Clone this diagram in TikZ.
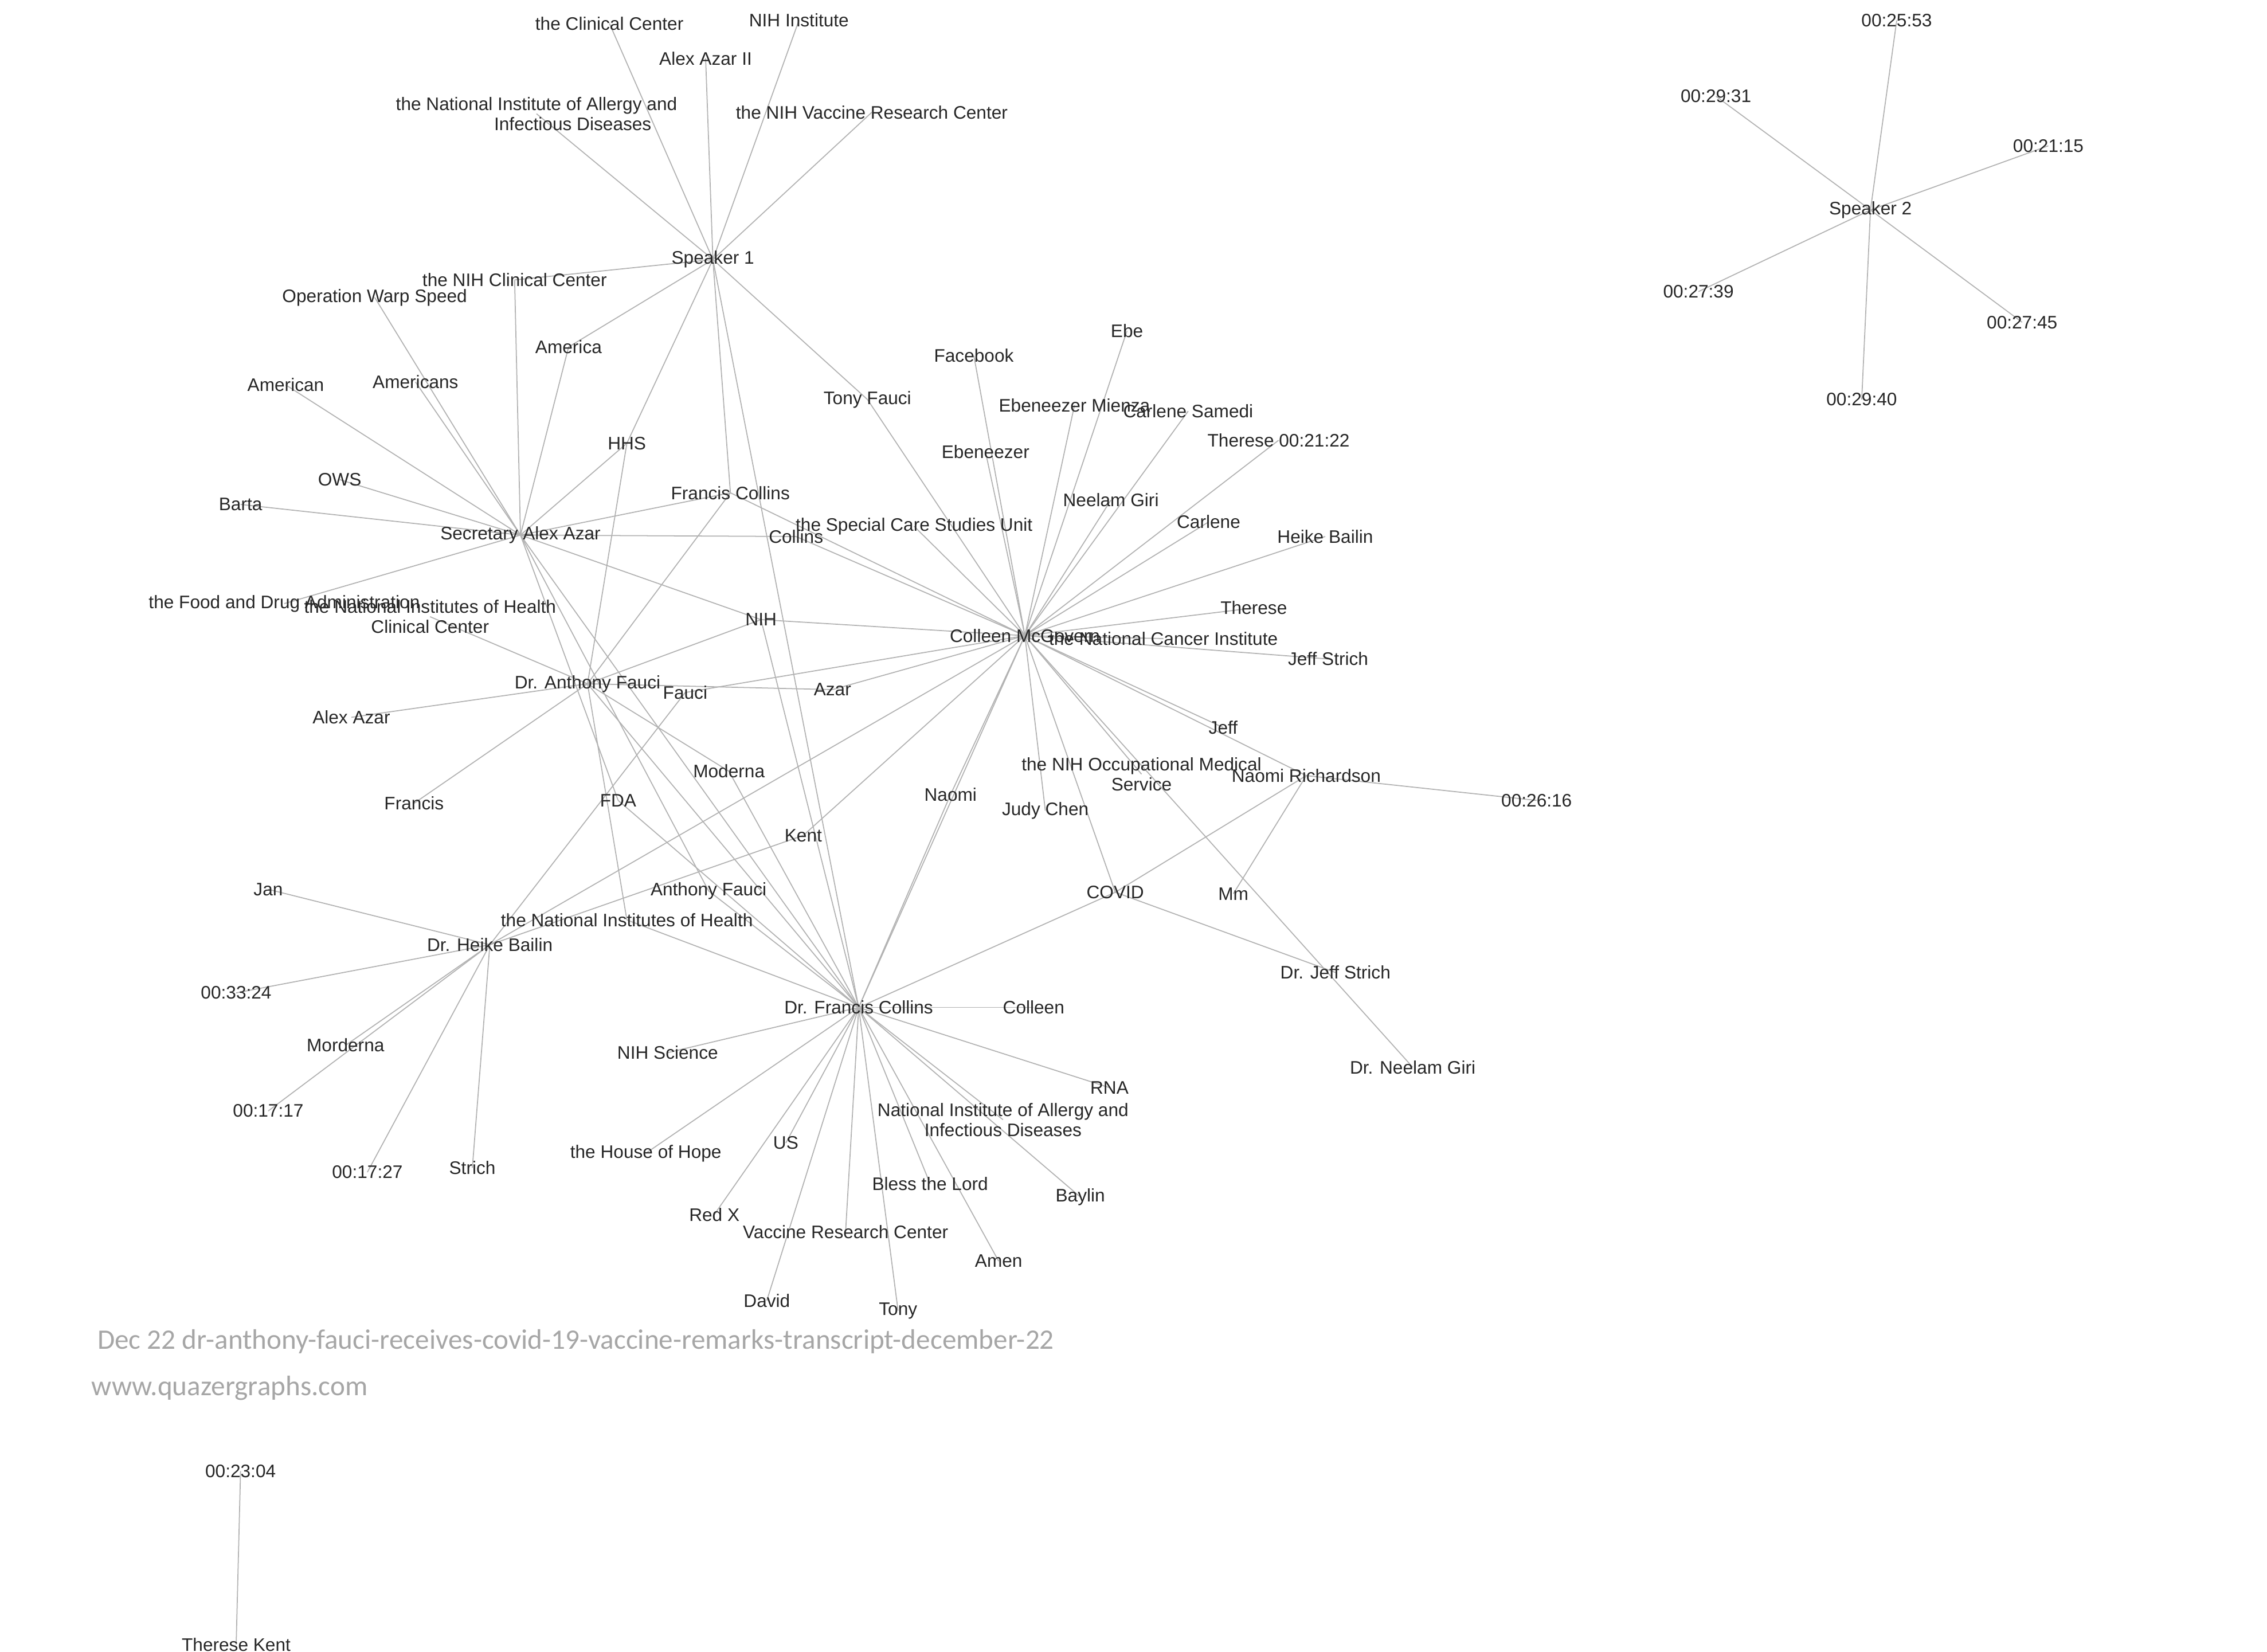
\documentclass[tikz,border=0pt]{standalone}
\usepackage{fontspec}
\setmainfont{Liberation Sans}
\newfontfamily\capfont{Carlito}
\usetikzlibrary{backgrounds}

\begin{document}
\begin{tikzpicture}[x=0.02543cm,y=-0.02543cm,
  lbl/.style={font=\fontsize{9}{10}\selectfont, text=black!85, inner sep=0pt, align=center},
  edge/.style={draw=black!30, line width=0.5pt},
  caption/.style={font=\capfont\fontsize{14}{16}\selectfont, text=black!35, anchor=west}]
\useasboundingbox (0,0) rectangle (1555,1133);
% hubs
\node[lbl] (s1) at (489,178) {Speaker 1};
\node[lbl] (saa) at (357,367) {Secretary Alex Azar};
\node[lbl] (cm) at (703,436) {Colleen McGovern};
\node[lbl] (daf) at (403,469) {Dr. Anthony Fauci};
\node[lbl] (dfc) at (589,691) {Dr. Francis Collins};
\node[lbl] (dhb) at (336,648) {Dr. Heike Bailin};
\node[lbl] (nr) at (896,532) {Naomi Richardson};
\node[lbl] (s2) at (1283,144) {Speaker 2};
% around Speaker 1
\node[lbl] (clc) at (418,16) {the Clinical Center};
\node[lbl] (aa2) at (484,40) {Alex Azar II};
\node[lbl] (nihi) at (548,14) {NIH Institute};
\node[lbl] (niaidt) at (368,78) {the National Institute of Allergy and\\ \hspace*{4em}Infectious Diseases};
\node[lbl] (vrct) at (598,77) {the NIH Vaccine Research Center};
\node[lbl] (nihcc) at (353,192) {the NIH Clinical Center};
\node[lbl] (amca) at (390,238) {America};
\node[lbl] (hhs) at (430,304) {HHS};
\node[lbl] (fcol) at (501,338) {Francis Collins};
\node[lbl] (tfau) at (595,274) {Tony Fauci};
% around Secretary Alex Azar
\node[lbl] (ows2) at (257,204) {Operation Warp Speed};
\node[lbl] (amns) at (285,262) {Americans};
\node[lbl] (amn) at (196,264) {American};
\node[lbl] (ows) at (233,329) {OWS};
\node[lbl] (barta) at (165,346) {Barta};
\node[lbl] (fda2) at (195,414) {the Food and Drug Administration};
\node[lbl] (coll) at (546,368) {Collins};
\node[lbl] (nih) at (522,425) {NIH};
\node[lbl] (fdas) at (424,549) {FDA};
\node[lbl] (afau) at (486,611) {Anthony Fauci};
% around Dr. Anthony Fauci
\node[lbl] (nihcl) at (295,423) {the National Institutes of Health\\Clinical Center};
\node[lbl] (aaz) at (241,492) {Alex Azar};
\node[lbl] (fran) at (284,551) {Francis};
\node[lbl] (fau) at (470,475) {Fauci};
\node[lbl] (azar) at (571,473) {Azar};
\node[lbl] (mod) at (500,529) {Moderna};
\node[lbl] (kent) at (551,573) {Kent};
\node[lbl] (nihl) at (430,631) {the National Institutes of Health};
% around Colleen McGovern
\node[lbl] (scsu) at (627,361) {the Special Care Studies Unit};
\node[lbl] (fb) at (668,244) {Facebook};
\node[lbl] (eben) at (676,310) {Ebeneezer};
\node[lbl] (ebm) at (737,278) {Ebeneezer Mienza};
\node[lbl] (ebe) at (773,227) {Ebe};
\node[lbl] (cs) at (815,282) {Carlene Samedi};
\node[lbl] (ng) at (762,343) {Neelam Giri};
\node[lbl] (t2122) at (877,302) {Therese 00:21:22};
\node[lbl] (carl) at (829,358) {Carlene};
\node[lbl] (hb) at (909,368) {Heike Bailin};
\node[lbl] (ther) at (860,417) {Therese};
\node[lbl] (nci) at (798,438) {the National Cancer Institute};
\node[lbl] (js) at (911,452) {Jeff Strich};
\node[lbl] (jeff) at (839,499) {Jeff};
\node[lbl] (oms) at (783,531) {the NIH Occupational Medical\\Service};
\node[lbl] (jc) at (717,556) {Judy Chen};
\node[lbl] (naomi) at (652,545) {Naomi};
\node[lbl] (covid) at (765,612) {COVID};
\node[lbl] (mm) at (846,613) {Mm};
\node[lbl] (djs) at (916,667) {Dr. Jeff Strich};
\node[lbl] (dng) at (969,732) {Dr. Neelam Giri};
\node[lbl] (t2616) at (1054,549) {00:26:16};
% around Dr. Heike Bailin
\node[lbl] (jan) at (184,610) {Jan};
\node[lbl] (t3324) at (162,681) {00:33:24};
\node[lbl] (mord) at (237,717) {Morderna};
\node[lbl] (t1717) at (184,762) {00:17:17};
\node[lbl] (t1727) at (252,804) {00:17:27};
\node[lbl] (stri) at (324,801) {Strich};
% around Dr. Francis Collins
\node[lbl] (colln) at (709,691) {Colleen};
\node[lbl] (nihs) at (458,722) {NIH Science};
\node[lbl] (rna) at (761,746) {RNA};
\node[lbl] (niaid) at (688,768) {National Institute of Allergy and\\Infectious Diseases};
\node[lbl] (hoh) at (443,791) {the House of Hope};
\node[lbl] (us) at (539,784) {US};
\node[lbl] (redx) at (490,833) {Red X};
\node[lbl] (btl) at (638,812) {Bless the Lord};
\node[lbl] (bayl) at (741,821) {Baylin};
\node[lbl] (vrc) at (580,845) {Vaccine Research Center};
\node[lbl] (amen) at (685,865) {Amen};
\node[lbl] (david) at (526,892) {David};
\node[lbl] (tony) at (616,899) {Tony};
% Speaker 2
\node[lbl] (t2553) at (1301,14) {00:25:53};
\node[lbl] (t2931) at (1177,66) {00:29:31};
\node[lbl] (t2115) at (1405,100) {00:21:15};
\node[lbl] (t2739) at (1165,200) {00:27:39};
\node[lbl] (t2745) at (1387,221) {00:27:45};
\node[lbl] (t2940) at (1277,274) {00:29:40};
% lone pair
\node[lbl] (t2304) at (165,1009) {00:23:04};
\node[lbl] (tk) at (162,1128) {Therese Kent};
% captions
\node[caption] (ttl) at (62,920) {Dec 22 dr-anthony-fauci-receives-covid-19-vaccine-remarks-transcript-december-22};
\node[caption] (web) at (58,952) {www.quazergraphs.com};
\begin{scope}[on background layer]
\foreach \a/\b in {s1/clc,s1/aa2,s1/nihi,s1/niaidt,s1/vrct,s1/nihcc,s1/amca,s1/hhs,s1/fcol,s1/tfau,s1/dfc,
  saa/ows2,saa/amns,saa/amn,saa/ows,saa/barta,saa/fda2,saa/nihcc,saa/amca,saa/hhs,saa/fcol,saa/coll,saa/nih,saa/fdas,saa/afau,saa/dfc,
  daf/nihcl,daf/aaz,daf/fran,daf/nih,daf/azar,daf/hhs,daf/fcol,daf/mod,daf/dfc,daf/nihl,
  cm/tfau,cm/fb,cm/eben,cm/ebm,cm/ebe,cm/cs,cm/ng,cm/t2122,cm/carl,cm/hb,cm/ther,cm/nci,cm/js,cm/jeff,cm/nr,cm/oms,cm/jc,cm/covid,cm/dng,cm/naomi,cm/dfc,cm/kent,cm/dhb,cm/fau,cm/azar,cm/nih,cm/coll,cm/scsu,cm/fcol,
  nr/t2616,nr/covid,nr/mm,covid/dfc,covid/djs,fau/dhb,kent/dhb,mod/dfc,nihl/dfc,fdas/dfc,afau/dfc,nih/dfc,
  dhb/jan,dhb/t3324,dhb/mord,dhb/t1717,dhb/t1727,dhb/stri,
  dfc/colln,dfc/nihs,dfc/rna,dfc/niaid,dfc/hoh,dfc/us,dfc/redx,dfc/btl,dfc/bayl,dfc/vrc,dfc/amen,dfc/david,dfc/tony,dfc/naomi,
  s2/t2553,s2/t2931,s2/t2115,s2/t2739,s2/t2745,s2/t2940,t2304/tk}
  \draw[edge] (\a.center) -- (\b.center);
\end{scope}
\end{tikzpicture}
\end{document}
